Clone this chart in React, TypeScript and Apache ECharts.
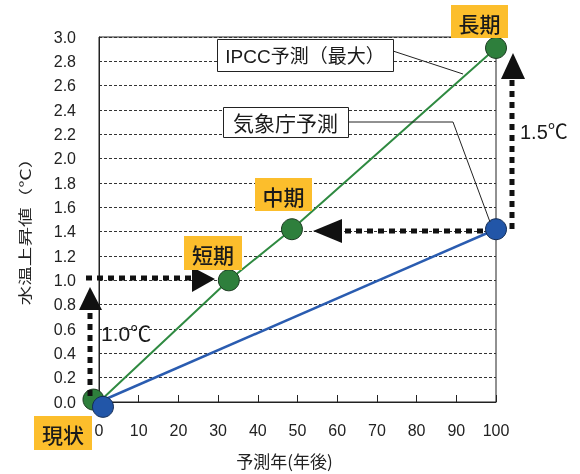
import React, { useEffect, useRef } from "react";
import * as echarts from "echarts";

const xTicks = [0, 10, 20, 30, 40, 50, 60, 70, 80, 90, 100];
const ipccX = [0, 32.7, 48.6, 100];
const ipccY = [0, 1.0, 1.42, 2.91];
const jmaX = [0, 100];
const jmaY = [0, 1.42];
const originGreen = [-1.4, 0.02];
const originBlue = [1.0, -0.04];

const FONT = "'Liberation Sans', 'Noto Sans CJK JP', sans-serif";
const GREEN_LINE = "#2f8a41";
const GREEN_FILL = "#2e7f3c";
const BLUE_LINE = "#2a5cb0";
const BLUE_FILL = "#2256a8";
const YELLOW = "#fcbe2c";

function yellowLabel(text: string, x: number, y: number, w: number, h: number) {
  return {
    type: "group",
    z: 120,
    children: [
      { type: "rect", shape: { x, y, width: w, height: h }, style: { fill: YELLOW }, z: 120 },
      {
        type: "text",
        x: x + w / 2,
        y: y + h / 2 + 1,
        z: 121,
        style: { text, fill: "#1a1a1a", font: `500 21px 'Noto Sans CJK JP', sans-serif`, align: "center", verticalAlign: "middle" },
      },
    ],
  };
}

function boxLabel(text: string, x: number, y: number, w: number, h: number, size: number) {
  return {
    type: "group",
    z: 110,
    children: [
      { type: "rect", shape: { x: x + 0.5, y: y + 0.5, width: w, height: h }, style: { fill: "#fff", stroke: "#222", lineWidth: 1 }, z: 110 },
      {
        type: "text",
        x: x + w / 2,
        y: y + h / 2 + 1,
        z: 111,
        style: { text, fill: "#1a1a1a", font: `${size}px ${FONT}`, align: "center", verticalAlign: "middle" },
      },
    ],
  };
}

function dotted(x1: number, y1: number, x2: number, y2: number) {
  return {
    type: "line",
    z: 105,
    shape: { x1, y1, x2, y2 },
    style: { stroke: "#111", lineWidth: 5, lineDash: [6, 5] },
  };
}

function tri(points: number[][]) {
  return { type: "polygon", z: 105, shape: { points }, style: { fill: "#111" } };
}

export default function App() {
  const ref = useRef<HTMLDivElement>(null);
  useEffect(() => {
    const chart = echarts.init(ref.current!, null, { renderer: "svg" });
    chart.setOption({
      animation: false,
      textStyle: { fontFamily: FONT },
      grid: { left: 99, right: 84, top: 37, bottom: 70, show: true, borderColor: "#222", borderWidth: 1 },
      xAxis: {
        type: "value",
        min: 0,
        max: 100,
        interval: 10,
        name: "予測年(年後)",
        nameLocation: "middle",
        nameGap: 50,
        nameTextStyle: { fontSize: 17, color: "#222", fontFamily: "'Noto Sans CJK JP', sans-serif", padding: [0, 26, 0, 0] },
        axisLine: { lineStyle: { color: "#222", width: 1 } },
        axisTick: { inside: true, length: 7, lineStyle: { color: "#222" } },
        axisLabel: { fontSize: 16, color: "#222", margin: 20, formatter: (v: number) => (xTicks.includes(v) ? String(v) : "") },
        splitLine: { show: false },
      },
      yAxis: {
        type: "value",
        min: 0,
        max: 3.0,
        interval: 0.2,
        axisLine: { show: true, lineStyle: { color: "#222", width: 1 } },
        axisTick: { show: false },
        axisLabel: { fontSize: 16, color: "#222", margin: 23, formatter: (v: number) => v.toFixed(1) },
        splitLine: { show: true, lineStyle: { color: "#333", type: [3, 2], width: 1 } },
      },
      series: [
        {
          type: "line",
          data: ipccX.map((x, i) => (i === 0 ? { value: [x, ipccY[i]], symbol: "none" } : { value: [x, ipccY[i]] })),
          lineStyle: { color: GREEN_LINE, width: 2 },
          symbol: "circle",
          symbolSize: 21,
          itemStyle: { color: GREEN_FILL, borderColor: "#1b3a20", borderWidth: 1, opacity: 1 },
          z: 3,
        },
        {
          type: "line",
          data: jmaX.map((x, i) => (i === 0 ? { value: [x, jmaY[i]], symbol: "none" } : { value: [x, jmaY[i]] })),
          lineStyle: { color: BLUE_LINE, width: 2.5 },
          symbol: "circle",
          symbolSize: 21,
          itemStyle: { color: BLUE_FILL, borderColor: "#132c55", borderWidth: 1, opacity: 1 },
          z: 4,
        },
        {
          type: "scatter",
          clip: false,
          data: [originGreen],
          symbolSize: 21,
          itemStyle: { color: GREEN_FILL, borderColor: "#1b3a20", borderWidth: 1, opacity: 1 },
          z: 5,
        },
        {
          type: "scatter",
          clip: false,
          data: [originBlue],
          symbolSize: 21,
          itemStyle: { color: BLUE_FILL, borderColor: "#132c55", borderWidth: 1, opacity: 1 },
          z: 6,
        },
      ],
      graphic: [
        {
          type: "text",
          z: 50,
          x: 24,
          y: 227,
          rotation: Math.PI / 2,
          scaleX: 1.4,
          style: { text: "水温上昇値（℃）", fill: "#222", font: `14px 'Noto Sans CJK JP', sans-serif`, align: "center", verticalAlign: "middle" },
        },
        // leader lines
        { type: "polyline", z: 100, shape: { points: [[393, 51], [463, 74]] }, style: { stroke: "#222", lineWidth: 1, fill: null } },
        { type: "polyline", z: 100, shape: { points: [[349, 122], [453, 122], [490, 222]] }, style: { stroke: "#222", lineWidth: 1, fill: null } },
        boxLabel("IPCC予測（最大）", 217, 39, 176, 32, 19),
        boxLabel("気象庁予測", 223, 107, 125, 30, 21),
        // arrows
        dotted(90, 396, 90, 309),
        tri([[90, 287], [79, 310], [102, 310]]),
        dotted(86, 278, 193, 278),
        tri([[215, 279], [192, 267], [192, 292]]),
        dotted(483, 231, 341, 231),
        tri([[313, 231], [342, 219], [342, 243]]),
        dotted(512, 229, 512, 78),
        tri([[513, 53], [501, 79], [525, 79]]),
        { type: "text", z: 106, x: 101, y: 333, style: { text: "1.0℃", fill: "#1a1a1a", font: `21px ${FONT}`, align: "left", verticalAlign: "middle" } },
        { type: "text", z: 106, x: 520, y: 132, style: { text: "1.5℃", fill: "#1a1a1a", font: `20px ${FONT}`, align: "left", verticalAlign: "middle" } },
        yellowLabel("長期", 451, 5, 57, 33),
        yellowLabel("中期", 255, 178, 57, 33),
        yellowLabel("短期", 184, 236, 58, 34),
        yellowLabel("現状", 34, 416, 58, 34),
      ],
    });
    return () => chart.dispose();
  }, []);
  return <div ref={ref} style={{ position: "fixed", left: 0, top: 0, width: 580, height: 474 }} />;
}
